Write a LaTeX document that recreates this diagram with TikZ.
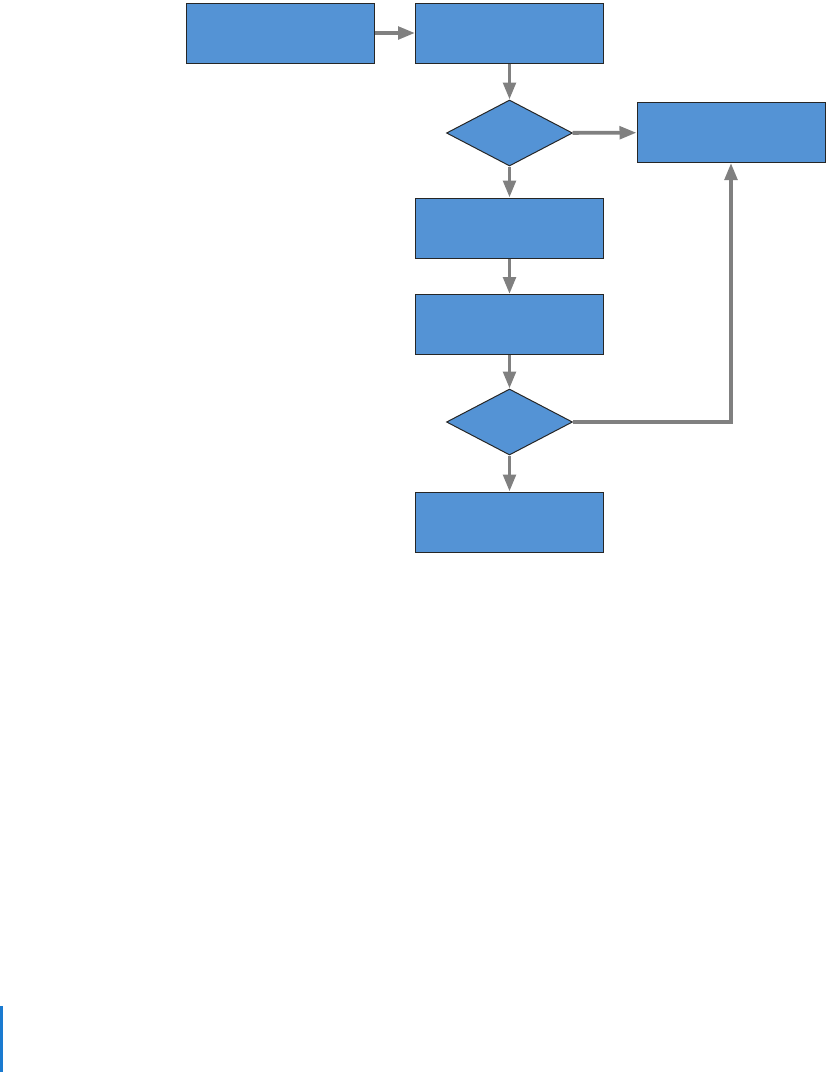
\documentclass[tikz,border=0pt]{standalone}
\usepackage{tikz}
\usetikzlibrary{shapes.geometric,arrows.meta}

\definecolor{boxblue}{RGB}{84,147,213}
\definecolor{linegray}{RGB}{128,128,128}
\definecolor{barblue}{RGB}{26,122,208}

\tikzset{
  stepbox/.style={draw=black!85,fill=boxblue,line width=1pt,inner sep=0pt,
    minimum width=188pt,minimum height=60pt},
  choice/.style={draw=black!85,fill=boxblue,line width=1pt,inner sep=0pt,
    diamond,minimum width=126pt,minimum height=66pt},
  flow/.style={draw=linegray,line width=3.8pt,
    -{Triangle[length=17pt,width=12.5pt]}},
}

\begin{document}
\begin{tikzpicture}[x=1pt,y=-1pt]
\useasboundingbox (0,0) rectangle (826,1072);
% objects at depth 100:
\path[fill=barblue] (0,1006) rectangle (2.5,1072);
% objects at depth 50:
\node[stepbox] (start) at (280.5,33) {};
\node[stepbox] (read) at (509.5,33) {};
\node[choice] (check) at (509.5,133) {};
\node[stepbox] (fail) at (731,132.5) {};
\node[stepbox] (prep) at (509.5,228) {};
\node[stepbox] (work) at (509.5,324.5) {};
\node[choice] (test) at (509.5,422) {};
\node[stepbox] (done) at (509.5,522) {};
% objects at depth 25:
\draw[flow] (start) -- (read);
\draw[flow] (read) -- (check);
\draw[flow] (check) -- (fail);
\draw[flow] (check) -- (prep);
\draw[flow] (prep) -- (work);
\draw[flow] (work) -- (test);
\draw[flow] (test) -- (done);
\draw[flow] (test.east) -| (fail.south);
\end{tikzpicture}
\end{document}
